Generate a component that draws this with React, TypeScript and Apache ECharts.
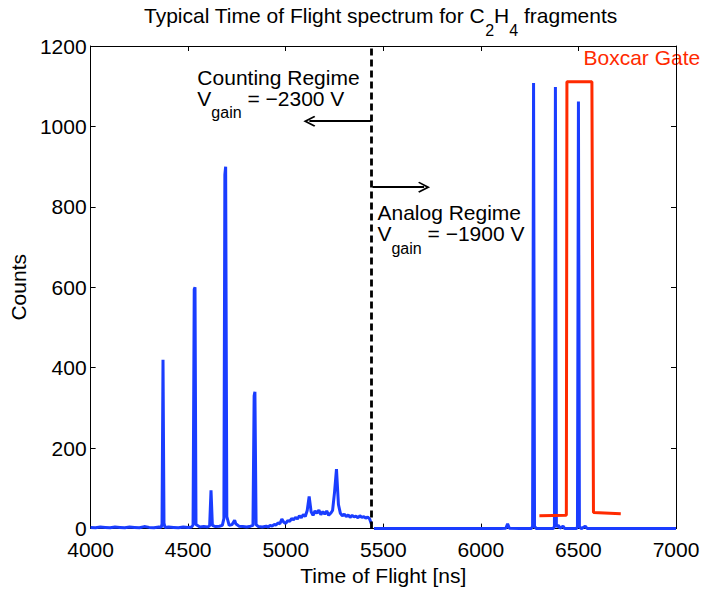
import { useEffect, useRef } from 'react';
import * as echarts from 'echarts';

// ---- data ----
const countingTof = [
  4000, 4025, 4050, 4075, 4100, 4125, 4150, 4175, 4200, 4225, 4250, 4275, 4300, 4325, 4350,
  4362, 4366, 4371, 4376, 4381, 4400, 4425, 4450, 4475, 4500, 4518, 4525, 4531, 4535, 4540,
  4560, 4580, 4600, 4610, 4617, 4624, 4640, 4660, 4675, 4683, 4688, 4692, 4698, 4710, 4725,
  4732, 4738, 4744, 4760, 4780, 4800, 4820, 4832, 4838, 4842, 4848, 4860, 4880, 4900,
  4910, 4920, 4930, 4940, 4950, 4960, 4970, 4980, 4990, 5000, 5010, 5020, 5030, 5040, 5050,
  5060, 5070, 5080, 5090, 5100, 5110, 5120, 5130, 5140, 5150, 5160, 5170, 5180, 5190, 5200,
  5210, 5220, 5230, 5240, 5250, 5260, 5270, 5280, 5290, 5300, 5310, 5320, 5330, 5340, 5350,
  5360, 5370, 5380, 5390, 5400, 5410, 5420, 5430, 5440, 5445,
];
const countingCounts = [
  3, 2, 4, 3, 2, 4, 3, 2, 4, 3, 2, 5, 3, 2, 4,
  3, 12, 420, 14, 3, 4, 3, 2, 4, 3, 4, 9, 595, 600, 10,
  4, 5, 4, 7, 95, 8, 5, 6, 8, 25, 880, 900, 30, 8, 10,
  16, 21, 12, 6, 5, 4, 6, 8, 330, 340, 10, 5, 4, 6,
  4, 8, 6, 10, 9, 14, 12, 24, 16, 13, 20, 18, 25, 22,
  28, 24, 32, 27, 35, 30, 45, 80, 42, 33, 44, 38, 46, 35, 42,
  36, 44, 33, 38, 45, 90, 148, 60, 38, 32, 36, 30, 34, 28, 33,
  29, 31, 27, 32, 28, 30, 26, 29, 24, 10,
];
const analogTof = [
  5452, 5500, 5600, 5700, 5800, 5900, 6000, 6100, 6128, 6137, 6146, 6200, 6258, 6265, 6270,
  6275, 6285, 6370, 6377, 6382, 6387, 6398, 6405, 6421, 6430, 6490, 6495, 6500, 6505, 6515,
  6535, 6545, 6600, 6700, 6800, 6900, 7000,
];
const analogCounts = [
  0, 0, 0, 0, 0, 0, 0, 0, 1, 12, 1, 0, 0, 5, 1108,
  5, 0, 0, 5, 1098, 5, 8, 1, 6, 0, 0, 5, 1062, 5, 0,
  6, 0, 0, 0, 0, 0, 0,
];
const gateTof = [6300, 6438, 6441, 6569, 6577, 6717];
const gateLevel = [32, 33, 1111, 1111, 40, 37];
const regimeBoundary = 5437;
const countingArrow = { from: 5437, to: 5121, level: 1013 };
const analogArrow = { from: 5445, to: 5709, level: 849 };
const xRange = { min: 4000, max: 7000, interval: 500 };
const yRange = { min: 0, max: 1200, interval: 200 };
const titleParts = ['Typical Time of Flight spectrum for C', '2', 'H', '4', ' fragments'];
const countingText = { x: 4547, y: 1146, title: 'Counting Regime', volts: ' = \u22122300 V' };
const analogText = { x: 5470, y: 809, title: 'Analog Regime', volts: ' = \u22121900 V' };
const gateText = { x: 6526, y: 1197, text: 'Boxcar Gate' };

const FONT = '"Liberation Sans", Arial, Helvetica, sans-serif';
const BLUE = '#1a3dff';
const RED = '#ff2a00';
const CHEVRON = 'path://M5,0 L10,9 L8.9,10 L5,3.2 L1.1,10 L0,9 Z';

export default function App() {
  const ref = useRef<HTMLDivElement>(null);
  useEffect(() => {
    document.body.style.margin = '0';
    const chart = echarts.init(ref.current!, null, { renderer: 'svg' });
    const spectrum: number[][] = [];
    countingTof.forEach((t, i) => spectrum.push([t, countingCounts[i]]));
    analogTof.forEach((t, i) => spectrum.push([t, analogCounts[i]]));
    const gate = gateTof.map((t, i) => [t, gateLevel[i]]);

    const axisCommon = {
      min: xRange.min, max: xRange.max, interval: xRange.interval,
      axisLine: { show: true, onZero: false, lineStyle: { color: '#000', width: 1 } },
      axisTick: { show: true, inside: true, length: 5, lineStyle: { color: '#000', width: 1 } },
      splitLine: { show: false },
    };
    const yCommon = {
      min: yRange.min, max: yRange.max, interval: yRange.interval,
      axisLine: { show: true, onZero: false, lineStyle: { color: '#000', width: 1 } },
      axisTick: { show: true, inside: true, length: 5, lineStyle: { color: '#000', width: 1 } },
      splitLine: { show: false },
    };
    const labelFont = { fontFamily: FONT, fontSize: 21, color: '#000', fontWeight: 'normal' as const };
    const plain = (v: number) => String(v);

    chart.setOption({
      animation: false,
      title: {
        text: `{a|${titleParts[0]}}{s|${titleParts[1]}}{a|${titleParts[2]}}{s|${titleParts[3]}}{a|${titleParts[4]}}`,
        left: 144,
        top: 5,
        padding: 0,
        textStyle: {
          fontWeight: 'normal',
          rich: {
            a: { fontFamily: FONT, fontSize: 21, fontWeight: 'normal', lineHeight: 21, color: '#000', verticalAlign: 'top' },
            s: { fontFamily: FONT, fontSize: 16, fontWeight: 'normal', lineHeight: 16, color: '#000', verticalAlign: 'top', padding: [17, 0, 0, 0] },
          },
        },
      },
      grid: { left: 89, right: 27, top: 46, bottom: 53, containLabel: false },
      xAxis: [
        {
          type: 'value', position: 'bottom', ...axisCommon,
          axisLabel: { ...labelFont, margin: 13, lineHeight: 16, formatter: plain },
          name: 'Time of Flight [ns]', nameLocation: 'middle', nameGap: 28,
          nameTextStyle: { ...labelFont },
        },
        { type: 'value', position: 'top', ...axisCommon, axisLabel: { show: false } },
      ],
      yAxis: [
        {
          type: 'value', position: 'left', ...yCommon,
          axisLabel: { ...labelFont, margin: 4, lineHeight: 16, formatter: plain },
          name: 'Counts', nameLocation: 'middle', nameGap: 55,
          nameTextStyle: { ...labelFont },
        },
        { type: 'value', position: 'right', ...yCommon, axisLabel: { show: false } },
      ],
      series: [
        {
          name: 'Spectrum', type: 'line', data: spectrum, showSymbol: false, symbol: 'none',
          clip: false,
          lineStyle: { color: BLUE, width: 3, join: 'bevel' },
          z: 3,
          markLine: {
            silent: true, animation: false, symbol: ['none', 'none'],
            label: { show: false },
            data: [
              { xAxis: regimeBoundary, lineStyle: { color: '#000', width: 2.8, type: [7, 4] } },
              [
                { coord: [countingArrow.from, countingArrow.level], symbol: 'none' },
                { coord: [countingArrow.to, countingArrow.level], symbol: CHEVRON, symbolSize: [11, 12] },
              ],
              [
                { coord: [analogArrow.from, analogArrow.level], symbol: 'none' },
                { coord: [analogArrow.to, analogArrow.level], symbol: CHEVRON, symbolSize: [11, 12] },
              ],
            ],
            lineStyle: { color: '#000', width: 2, type: 'solid' },
            emphasis: { disabled: true },
          },
        },
        {
          name: 'Boxcar Gate', type: 'line', data: gate, showSymbol: false, symbol: 'none',
          clip: false,
          lineStyle: { color: RED, width: 3, join: 'bevel' },
          z: 4,
        },
      ],
    });

    const px = (x: number, y: number) =>
      chart.convertToPixel({ xAxisIndex: 0, yAxisIndex: 0 }, [x, y]) as number[];
    const richA = { fontFamily: FONT, fontSize: 21, lineHeight: 21, fill: '#000', verticalAlign: 'top' };
    const richS = { fontFamily: FONT, fontSize: 16, lineHeight: 16, fill: '#000', verticalAlign: 'top', padding: [17, 0, 0, 0] };
    const regimeLabel = (t: typeof countingText) => {
      const p = px(t.x, t.y);
      return {
        type: 'text', x: p[0], y: p[1] - 1, silent: true,
        style: {
          text: `{a|${t.title}}\n{a|V}{s|gain}{a|${t.volts}}`,
          rich: { a: richA, s: richS },
          fill: '#000',
        },
      };
    };
    const g = px(gateText.x, gateText.y);
    chart.setOption({
      graphic: [
        regimeLabel(countingText),
        regimeLabel(analogText),
        {
          type: 'text', x: g[0], y: g[1], silent: true,
          style: { text: `{r|${gateText.text}}`, rich: { r: { ...richA, fill: RED } }, fill: RED },
        },
      ],
    });
    return () => chart.dispose();
  }, []);
  return <div ref={ref} style={{ width: 703, height: 591 }} />;
}
